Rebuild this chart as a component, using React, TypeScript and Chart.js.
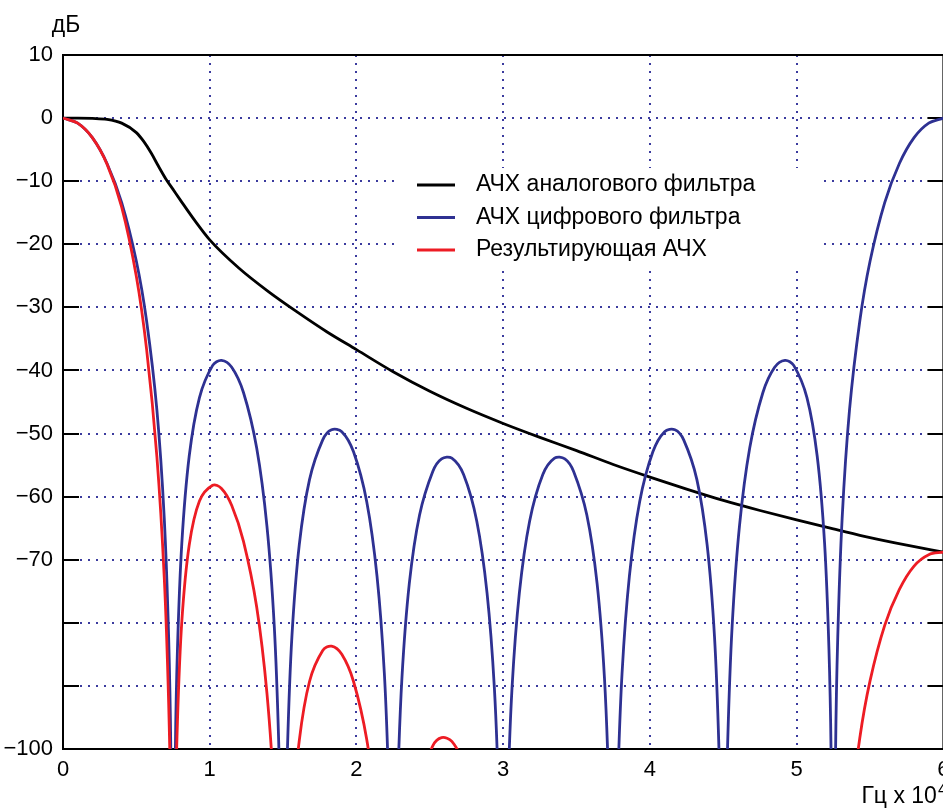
import React, { useEffect, useRef } from 'react';
import { Chart, registerables } from 'chart.js';

Chart.register(...registerables);

const FONT = "'Liberation Sans', Arial, Helvetica, sans-serif";
const BLUE = '#2e3192';
const RED = '#ed1c24';
const GRID = '#3b3b9e';

// Series labels and axis texts
const seriesLabels = ['АЧХ аналогового фильтра', 'АЧХ цифрового фильтра', 'Результирующая АЧХ'];
const yUnit = 'дБ';
const xUnit = 'Гц x 10';
const xExp = '4';

// Y tick labels (top to bottom)
const yTickValues = [10, 0, -10, -20, -30, -40, -50, -60, -70, -80, -90, -100];
const yTickLabels = ['10', '0', '−10', '−20', '−30', '−40', '−50', '−60', '−70', '', '', '−100'];

// Analog filter response (black)
const analogFreq = [0, 0.1, 0.2, 0.3, 0.4, 0.5, 0.55, 0.6, 0.65, 0.7, 0.75, 0.8, 0.9, 1.0, 1.2, 1.4, 1.6, 1.8, 2.0, 2.25, 2.5, 2.75, 3.0, 3.25, 3.5, 3.75, 4.0, 4.25, 4.5, 4.75, 5.0, 5.25, 5.5, 5.75, 6.0];
const analogDb = [0, 0, -0.05, -0.2, -0.8, -2.3, -3.7, -5.5, -7.6, -9.6, -11.3, -13.0, -16.3, -19.3, -23.8, -27.5, -30.8, -33.9, -36.7, -40.2, -43.3, -46.0, -48.4, -50.6, -52.7, -54.9, -56.9, -58.8, -60.6, -62.2, -63.7, -65.1, -66.5, -67.7, -68.8];

// Frequency grid shared by digital and resulting responses
const freqGrid = [
  0, 0.1, 0.2, 0.3, 0.4, 0.5, 0.57, 0.64, 0.69, 0.72, 0.735,
  0.75,
  0.765, 0.78, 0.81, 0.86, 0.93, 1.02, 1.08, 1.15, 1.23, 1.32, 1.39, 1.44, 1.47, 1.485,
  1.5,
  1.515, 1.53, 1.56, 1.61, 1.68, 1.77, 1.83, 1.9, 1.98, 2.07, 2.14, 2.19, 2.22, 2.235,
  2.25,
  2.265, 2.28, 2.31, 2.36, 2.43, 2.52, 2.58, 2.65, 2.73, 2.82, 2.89, 2.94, 2.97, 2.985,
  3.0,
  3.015, 3.03, 3.06, 3.11, 3.18, 3.27, 3.35, 3.42, 3.48, 3.57, 3.64, 3.69, 3.72, 3.735,
  3.75,
  3.765, 3.78, 3.81, 3.86, 3.93, 4.02, 4.1, 4.17, 4.23, 4.32, 4.39, 4.44, 4.47, 4.485,
  4.5,
  4.515, 4.53, 4.56, 4.61, 4.68, 4.77, 4.85, 4.92, 4.98, 5.07, 5.14, 5.19, 5.22, 5.235,
  5.25,
  5.265, 5.28, 5.31, 5.36, 5.43, 5.5, 5.6, 5.7, 5.8, 5.9, 6.0,
];

// Digital filter response (blue)
const digitalDb = [
  0, -0.8, -3.1, -7.2, -13.4, -22.7, -32.2, -46.3, -63.4, -82.3, -100.8,
  -150,
  -101.8, -84.2, -67.3, -53.6, -44.3, -39.2, -38.4, -39.5, -43.5, -52.3, -64.7, -80.6, -98.9, -117.1,
  -150,
  -117.5, -99.7, -82.2, -67.7, -57.3, -51.0, -49.4, -49.7, -52.9, -60.8, -72.6, -88.0, -106.1, -124.2,
  -150,
  -124.3, -106.4, -88.7, -73.8, -62.9, -56.0, -54.0, -53.9, -56.5, -63.9, -75.3, -90.4, -108.3, -126.3,
  -150,
  -126.3, -108.3, -90.4, -75.3, -63.9, -56.5, -53.9, -54.0, -56.0, -62.9, -73.8, -88.7, -106.4, -124.3,
  -150,
  -124.2, -106.1, -88.0, -72.6, -60.8, -52.9, -49.7, -49.4, -51.0, -57.3, -67.7, -82.2, -99.7, -117.5,
  -150,
  -117.1, -98.9, -80.6, -64.7, -52.3, -43.5, -39.5, -38.4, -39.2, -44.3, -53.6, -67.3, -84.2, -101.8,
  -150,
  -100.8, -82.3, -63.4, -46.3, -32.2, -22.7, -13.4, -7.2, -3.1, -0.8, 0,
];

// Resulting response (red)
const resultDb = [
  0, -0.8, -3.1, -7.3, -14.1, -25.1, -36.7, -53.7, -72.8, -92.7, -111.6,
  -200,
  -112.8, -95.7, -79.7, -67.7, -60.7, -58.2, -58.7, -61.4, -67.1, -77.5, -91.2, -108.0, -127.0, -146.0,
  -200,
  -146.9, -129.4, -112.3, -98.7, -89.3, -84.4, -83.7, -85.0, -89.3, -98.5, -111.3, -127.4, -145.9, -164.2,
  -200,
  -164.7, -147.0, -129.6, -115.4, -105.3, -99.5, -98.2, -98.8, -102.3, -110.6, -122.6, -138.2, -156.4, -174.6,
  -200,
  -174.8, -157.0, -139.3, -124.7, -113.9, -107.3, -105.3, -106.0, -108.5, -116.2, -127.7, -143.0, -161.0, -179.1,
  -200,
  -179.2, -161.3, -143.4, -128.4, -117.1, -110.0, -107.4, -107.6, -109.6, -116.6, -127.5, -142.4, -160.1, -178.0,
  -200,
  -177.8, -159.7, -141.6, -126.0, -114.1, -105.8, -102.3, -101.6, -102.8, -108.4, -118.1, -132.1, -149.1, -166.8,
  -200,
  -166.0, -147.6, -128.8, -112.0, -98.3, -89.2, -80.4, -74.7, -71.0, -69.2, -68.8,
];

const TICK_LEN = 16;

const framePlugin = {
  id: 'frame',
  beforeDatasetsDraw(chart: any) {
    const { ctx, chartArea } = chart;
    const { left, right, top, bottom } = chartArea;
    const y = chart.scales.y;
    ctx.save();
    ctx.strokeStyle = '#000';
    ctx.lineWidth = 2;
    ctx.beginPath();
    ctx.moveTo(left, top);
    ctx.lineTo(right, top);
    ctx.moveTo(right, top);
    ctx.lineTo(right, bottom);
    ctx.stroke();
    ctx.beginPath();
    for (const t of y.ticks) {
      const py = Math.round(y.getPixelForValue(t.value));
      ctx.moveTo(left, py);
      ctx.lineTo(left + TICK_LEN, py);
      ctx.moveTo(right, py);
      ctx.lineTo(right - TICK_LEN, py);
    }
    ctx.stroke();
    ctx.restore();
  },
  afterDatasetsDraw(chart: any) {
    const { ctx, chartArea } = chart;
    const bx = chartArea.left + 337;
    const by = chartArea.top + 113;
    ctx.save();
    ctx.fillStyle = '#fff';
    ctx.fillRect(bx, by, 420, 100);
    ctx.font = `23px ${FONT}`;
    ctx.textBaseline = 'middle';
    ctx.textAlign = 'left';
    chart.data.datasets.forEach((ds: any, i: number) => {
      const cy = by + 17 + i * 32.5;
      ctx.strokeStyle = ds.borderColor;
      ctx.lineWidth = 2.8;
      ctx.beginPath();
      ctx.moveTo(bx + 17, cy);
      ctx.lineTo(bx + 55, cy);
      ctx.stroke();
      ctx.fillStyle = '#000';
      ctx.fillText(ds.label, bx + 76, cy);
    });
    ctx.textBaseline = 'alphabetic';
    ctx.fillStyle = '#000';
    ctx.font = `23px ${FONT}`;
    ctx.textAlign = 'center';
    ctx.fillText(yUnit, chartArea.left + 3, 31.5);
    ctx.textAlign = 'left';
    ctx.font = `23px ${FONT}`;
    const tx = chartArea.right - 82;
    ctx.fillText(xUnit, tx, 803);
    const w = ctx.measureText(xUnit).width;
    ctx.font = `16px ${FONT}`;
    ctx.fillText(xExp, tx + w + 1, 795);
    ctx.restore();
  },
};

export default function App() {
  const ref = useRef<HTMLCanvasElement>(null);

  useEffect(() => {
    document.body.style.margin = '0';
    const canvas = ref.current!;
    const toPts = (xs: number[], ys: number[]) => ys.map((v, i) => ({ x: xs[i], y: v }));
    const chart = new Chart(canvas, {
      type: 'line',
      data: {
        datasets: [
          { label: seriesLabels[0], data: toPts(analogFreq, analogDb), borderColor: '#000', order: 3, cubicInterpolationMode: 'monotone' },
          { label: seriesLabels[1], data: toPts(freqGrid, digitalDb), borderColor: BLUE, order: 2, tension: 0.35 },
          { label: seriesLabels[2], data: toPts(freqGrid, resultDb), borderColor: RED, order: 1, tension: 0.35 },
        ] as any,
      },
      options: {
        responsive: false,
        animation: false,
        devicePixelRatio: 1,
        layout: { padding: { left: 0, top: 55, right: 16.6, bottom: 0 } },
        plugins: {
          legend: { display: false },
          tooltip: { enabled: false },
          title: { display: false },
        },
        elements: {
          point: { radius: 0 },
          line: { borderWidth: 2.8, fill: false, capBezierPoints: false },
        },
        datasets: { line: { clip: 0 } } as any,
        scales: {
          x: {
            type: 'linear',
            min: 0,
            max: 6,
            afterFit: (s: any) => { s.height = 60; },
            ticks: {
              stepSize: 1,
              color: '#000',
              font: { family: FONT, size: 22 },
              padding: 8,
              autoSkip: false,
              maxRotation: 0,
            },
            grid: {
              drawTicks: false,
              lineWidth: 2,
              color: (c: any) => (c.tick && (c.tick.value === 0 || c.tick.value === 6) ? 'rgba(0,0,0,0)' : GRID),
            },
            border: { display: true, color: '#000', width: 2, dash: [2, 6] },
          },
          y: {
            type: 'linear',
            min: -100,
            max: 10,
            afterFit: (s: any) => { s.width = 63; },
            ticks: {
              stepSize: 10,
              color: '#000',
              font: { family: FONT, size: 22 },
              padding: 10,
              autoSkip: false,
              callback: (v: any) => {
                const i = yTickValues.indexOf(Number(v));
                return i >= 0 ? yTickLabels[i] : '';
              },
            },
            grid: {
              drawTicks: false,
              lineWidth: 2,
              color: (c: any) => (c.tick && (c.tick.value === 10 || c.tick.value === -100) ? 'rgba(0,0,0,0)' : GRID),
            },
            border: { display: true, color: '#000', width: 2, dash: [2, 6] },
          },
        },
      } as any,
      plugins: [framePlugin],
    });
    return () => chart.destroy();
  }, []);

  return (
    <div style={{ position: 'fixed', left: 0, top: 0, width: 943, height: 809, overflow: 'hidden', background: '#fff' }}>
      <canvas ref={ref} width={960} height={809} style={{ display: 'block' }} />
    </div>
  );
}
